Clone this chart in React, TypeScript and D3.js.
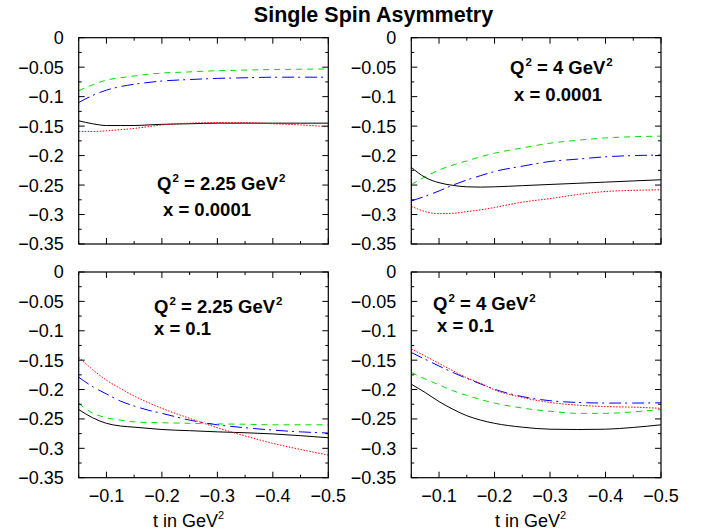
import React from "react";
import * as d3 from "d3";

const T = [-0.05, -0.075, -0.1, -0.125, -0.15, -0.175, -0.2, -0.25, -0.3, -0.35, -0.4, -0.45, -0.5];

// Top-left: Q2 = 2.25, x = 0.0001
const tlGreen = [-0.090, -0.080, -0.072, -0.068, -0.065, -0.062, -0.060, -0.058, -0.056, -0.055, -0.054, -0.0535, -0.053];
const tlBlue = [-0.110, -0.098, -0.089, -0.083, -0.079, -0.076, -0.0735, -0.071, -0.069, -0.068, -0.067, -0.067, -0.067];
const tlBlack = [-0.141, -0.146, -0.149, -0.149, -0.149, -0.148, -0.147, -0.146, -0.145, -0.145, -0.145, -0.145, -0.145];
const tlRed = [-0.159, -0.159, -0.158, -0.156, -0.154, -0.151, -0.148, -0.145, -0.144, -0.144, -0.146, -0.148, -0.151];

// Top-right: Q2 = 4, x = 0.0001
const trGreen = [-0.249, -0.236, -0.2245, -0.216, -0.209, -0.202, -0.196, -0.187, -0.179, -0.174, -0.170, -0.168, -0.167];
const trBlue = [-0.277, -0.269, -0.260, -0.250, -0.2415, -0.234, -0.227, -0.218, -0.210, -0.206, -0.202, -0.200, -0.199];
const trBlack = [-0.220, -0.237, -0.246, -0.2505, -0.253, -0.2535, -0.253, -0.251, -0.249, -0.247, -0.245, -0.243, -0.241];
const trRed = [-0.286, -0.295, -0.2985, -0.298, -0.295, -0.292, -0.288, -0.279, -0.273, -0.266, -0.261, -0.259, -0.258];

// Bottom-left: Q2 = 2.25, x = 0.1
const blGreen = [-0.2235, -0.240, -0.248, -0.252, -0.255, -0.256, -0.2565, -0.2575, -0.2585, -0.259, -0.260, -0.260, -0.260];
const blBlue = [-0.179, -0.195, -0.2075, -0.2195, -0.228, -0.235, -0.2405, -0.252, -0.260, -0.265, -0.269, -0.272, -0.274];
const blBlack = [-0.234, -0.248, -0.2575, -0.262, -0.264, -0.266, -0.268, -0.270, -0.272, -0.2735, -0.2755, -0.2785, -0.282];
const blRed = [-0.145, -0.166, -0.184, -0.198, -0.211, -0.222, -0.232, -0.249, -0.265, -0.279, -0.2915, -0.302, -0.3115];

// Bottom-right: Q2 = 4, x = 0.1
const brGreen = [-0.171, -0.182, -0.192, -0.202, -0.210, -0.217, -0.223, -0.2315, -0.237, -0.2405, -0.2405, -0.238, -0.234];
const brBlue = [-0.137, -0.1485, -0.160, -0.171, -0.181, -0.1905, -0.1995, -0.212, -0.219, -0.222, -0.223, -0.223, -0.2225];
const brBlack = [-0.191, -0.205, -0.2205, -0.2335, -0.2445, -0.252, -0.2575, -0.264, -0.2675, -0.268, -0.2675, -0.2645, -0.260];
const brRed = [-0.131, -0.143, -0.1555, -0.168, -0.180, -0.1895, -0.2005, -0.2135, -0.222, -0.2265, -0.229, -0.230, -0.232];

const yTickLabels = ["0", "−0.05", "−0.1", "−0.15", "−0.2", "−0.25", "−0.3", "−0.35"];
const yTickValues = [0, -0.05, -0.1, -0.15, -0.2, -0.25, -0.3, -0.35];
const xTickLabels = ["−0.1", "−0.2", "−0.3", "−0.4", "−0.5"];
const xTickValues = [-0.1, -0.2, -0.3, -0.4, -0.5];

const title = "Single Spin Asymmetry";
const xTitle = "t in GeV";

const STYLES = {
  green: { stroke: "#00e000", dash: "6,5" },
  blue: { stroke: "#0000ff", dash: "12,4,2,5" },
  black: { stroke: "#000000", dash: "none" },
  red: { stroke: "#ff0000", dash: "1.5,1.5" },
};

const panels = [
  {
    key: "tl", x0: 78.7, x1: 328.3, y0: 37.7, y1: 244, xLabels: false,
    q: "2.25", xv: "0.0001", qx: 157, qy: 190, xx: 163, xy: 216,
    series: { green: tlGreen, blue: tlBlue, black: tlBlack, red: tlRed },
  },
  {
    key: "tr", x0: 411.3, x1: 661, y0: 37.7, y1: 244, xLabels: false,
    q: "4", xv: "0.0001", qx: 510, qy: 74, xx: 514, xy: 101,
    series: { green: trGreen, blue: trBlue, black: trBlack, red: trRed },
  },
  {
    key: "bl", x0: 78.7, x1: 328.3, y0: 272, y1: 477.7, xLabels: true, titleX: 153,
    q: "2.25", xv: "0.1", qx: 154, qy: 313, xx: 154, xy: 335,
    series: { green: blGreen, blue: blBlue, black: blBlack, red: blRed },
  },
  {
    key: "br", x0: 411.3, x1: 661, y0: 272, y1: 477.7, xLabels: true, titleX: 495,
    q: "4", xv: "0.1", qx: 433, qy: 310, xx: 437, xy: 332,
    series: { green: brGreen, blue: brBlue, black: brBlack, red: brRed },
  },
];

const FONT = "'Liberation Sans', Arial, Helvetica, sans-serif";

function Panel({ p }: { p: any }) {
  const x = d3.scaleLinear().domain([-0.05, -0.5]).range([p.x0, p.x1]);
  const y = d3.scaleLinear().domain([0, -0.35]).range([p.y0, p.y1]);
  const line = d3
    .line<number>()
    .x((_, i) => x(T[i]))
    .y((d) => y(d))
    .curve(d3.curveMonotoneX);

  const xMinor = d3.range(0, 10).map((i) => -0.05 - i * 0.05);
  const yMinor = d3.range(0, 15).map((i) => -i * 0.025);
  const ticks: JSX.Element[] = [];
  xMinor.forEach((v, i) => {
    const major = Math.abs(Math.round(v * 100)) % 10 === 0;
    const len = major ? 6 : 3;
    const px = x(v);
    ticks.push(<line key={"xb" + i} x1={px} x2={px} y1={p.y1} y2={p.y1 - len} />);
    ticks.push(<line key={"xt" + i} x1={px} x2={px} y1={p.y0} y2={p.y0 + len} />);
  });
  yMinor.forEach((v, i) => {
    const major = i % 2 === 0;
    const len = major ? 6 : 3;
    const py = y(v);
    ticks.push(<line key={"yl" + i} x1={p.x0} x2={p.x0 + len} y1={py} y2={py} />);
    ticks.push(<line key={"yr" + i} x1={p.x1} x2={p.x1 - len} y1={py} y2={py} />);
  });

  return (
    <g>
      {(["green", "blue", "black", "red"] as const).map((k) => (
        <path
          key={k}
          d={line(p.series[k]) || ""}
          fill="none"
          stroke={STYLES[k].stroke}
          strokeWidth={1}
          strokeDasharray={STYLES[k].dash}
        />
      ))}
      <g stroke="#000" strokeWidth={1}>{ticks}</g>
      <rect x={p.x0} y={p.y0} width={p.x1 - p.x0} height={p.y1 - p.y0} fill="none" stroke="#000" strokeWidth={1.2} />
      {yTickValues.map((v, i) => (
        <text key={"yt" + i} x={p.x0 - 15} y={y(v)} dy="0.36em" textAnchor="end" fontSize={18} fontFamily={FONT}>
          {yTickLabels[i]}
        </text>
      ))}
      {p.xLabels &&
        xTickValues.map((v, i) => (
          <text key={"xt" + i} x={x(v)} y={502} textAnchor="middle" fontSize={18} fontFamily={FONT}>
            {xTickLabels[i]}
          </text>
        ))}
      {p.xLabels && (
        <text x={p.titleX} y={527} fontSize={18} fontFamily={FONT}>
          {xTitle}
          <tspan fontSize={11} dy={-8}>2</tspan>
        </text>
      )}
      <text x={p.qx} y={p.qy} fontSize={18.5} fontWeight="bold" fontFamily={FONT}>
        Q<tspan fontSize={11.5} dy={-8} dx={1}>2</tspan>
        <tspan dy={8}>{" = " + p.q + " GeV"}</tspan>
        <tspan fontSize={11.5} dy={-8} dx={1}>2</tspan>
      </text>
      <text x={p.xx} y={p.xy} fontSize={18.5} fontWeight="bold" fontFamily={FONT}>
        {"x = " + p.xv}
      </text>
    </g>
  );
}

export default function App() {
  return (
    <svg
      width={713}
      height={532}
      style={{ position: "absolute", left: 0, top: 0, background: "#fff" }}
    >
      <rect x={0} y={0} width={713} height={532} fill="#fff" />
      <text x={373.5} y={22} textAnchor="middle" fontSize={21.5} fontWeight="bold" fontFamily={FONT}>
        {title}
      </text>
      {panels.map((p) => (
        <Panel key={p.key} p={p} />
      ))}
    </svg>
  );
}
